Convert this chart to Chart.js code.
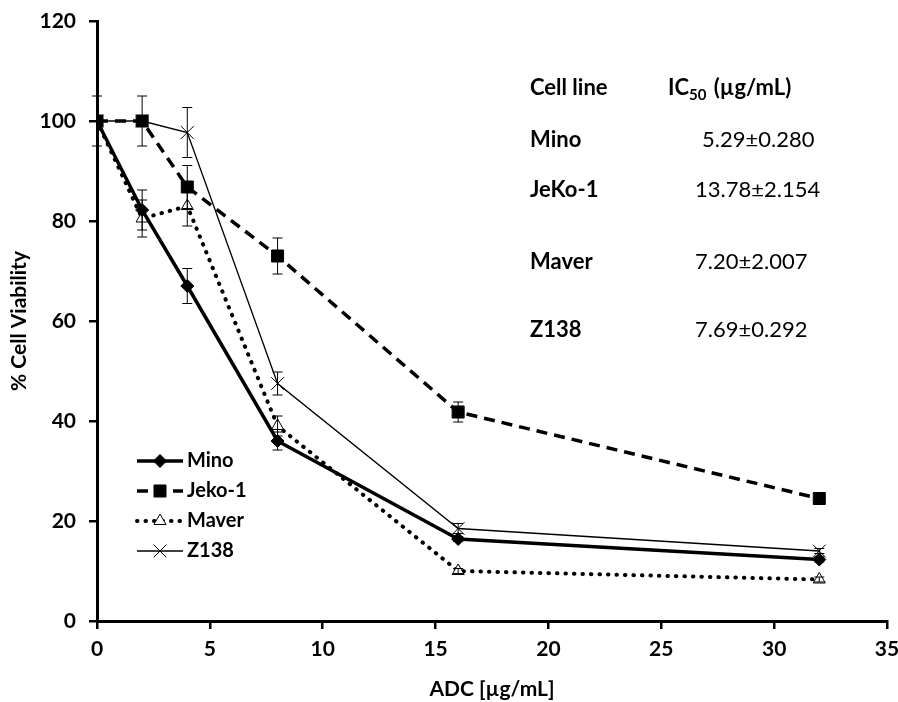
<!DOCTYPE html>
<html>
<head>
<meta charset="utf-8">
<script src="https://cdn.jsdelivr.net/npm/chart.js@4"></script>
<style>
  html, body { margin: 0; padding: 0; background: #fff; }
  #wrap { width: 898px; height: 702px; }
</style>
</head>
<body>
<div id="wrap"><canvas id="viabilityChart" width="898" height="702"></canvas></div>
<script>
// doses and viability values
const doses = [0, 2, 4, 8, 16, 32];
const mino = [100, 82.2, 67, 36, 16.4, 12.3];
const jeko = [100, 100, 86.8, 73, 41.8, 24.5];
const maver = [100, 80.5, 83, 39, 10, 8.3];
const z138 = [100, 100, 97.7, 47.5, 18.5, 14];

// standard deviations (error bars)
const minoErr = [0, 4, 3.5, 1.8, 0.5, 0.5];
const jekoErr = [0, 5, 4.3, 3.6, 2, 0.5];
const maverErr = [5, 3.7, 4, 2, 0.5, 0.5];
const z138Err = [0, 0, 5, 2.3, 1, 0.5];

const seriesNames = ['Mino', 'Jeko-1', 'Maver', 'Z138'];
const xTicks = [0, 5, 10, 15, 20, 25, 30, 35];
const yTicks = [0, 20, 40, 60, 80, 100, 120];

// IC50 table
const cellLines = ['Mino', 'JeKo-1', 'Maver', 'Z138'];
const ic50Values = ['5.29\u00b10.280', '13.78\u00b12.154', '7.20\u00b12.007', '7.69\u00b10.292'];

const allErrors = [minoErr, jekoErr, maverErr, z138Err];

function toPoints(ys) {
    return doses.map((d, i) => ({ x: d, y: ys[i] }));
}

const errorBars = {
    id: 'errorBars',
    afterDatasetsDraw(chart) {
        const c = chart.ctx;
        const xs = chart.scales.x, ys = chart.scales.y;
        c.save();
        c.strokeStyle = '#000';
        c.lineWidth = 1;
        allErrors.forEach((errs, di) => {
            const vals = chart.data.datasets[di].data;
            vals.forEach((p, i) => {
                if (!errs[i]) return;
                const px = xs.getPixelForValue(p.x);
                const top = ys.getPixelForValue(p.y + errs[i]);
                const bot = ys.getPixelForValue(p.y - errs[i]);
                c.beginPath();
                c.moveTo(px, top); c.lineTo(px, bot);
                c.moveTo(px - 5, top); c.lineTo(px + 5, top);
                c.moveTo(px - 5, bot); c.lineTo(px + 5, bot);
                c.stroke();
            });
        });
        c.restore();
    }
};

const sideText = {
    id: 'sideText',
    afterDraw(chart) {
        const c = chart.ctx;
        c.save();
        c.fillStyle = '#000';
        c.textBaseline = 'middle';
        c.textAlign = 'left';
        // table header
        c.font = 'bold 22px Lato';
        c.fillText('Cell line', 530, 88);
        c.fillText('IC', 668, 88);
        let w = c.measureText('IC').width;
        c.font = 'bold 15px Lato';
        c.fillText('50', 668 + w, 95);
        let w2 = c.measureText('50').width;
        c.font = 'bold 22px Lato';
        c.fillText(' (\u00b5g/mL)', 670 + w + w2, 88);
        const rowY = [140, 190, 262, 330];
        cellLines.forEach((name, i) => {
            c.font = 'bold 22px Lato';
            c.fillText(name, 530, rowY[i]);
            c.font = '22px Lato';
            c.fillText(ic50Values[i], i === 0 ? 702 : 695, rowY[i]);
        });

        // legend
        const ds = chart.data.datasets;
        const legY = [461, 491, 521, 551];
        ds.forEach((d, i) => {
            const y = legY[i];
            c.save();
            c.strokeStyle = '#000';
            c.lineWidth = d.borderWidth;
            c.setLineDash(d.borderDash || []);
            c.lineCap = d.borderCapStyle || 'butt';
            c.beginPath();
            c.moveTo(137, y); c.lineTo(183, y);
            c.stroke();
            c.restore();
            c.save();
            c.setLineDash([]);
            c.fillStyle = d.pointBackgroundColor;
            c.strokeStyle = '#000';
            c.lineWidth = d.pointBorderWidth;
            Chart.helpers.drawPoint(c, { pointStyle: d.pointStyle, radius: d.pointRadius, borderWidth: d.pointBorderWidth, rotation: 0 }, 160, y);
            c.restore();
            c.font = 'bold 20px Lato';
            c.fillText(seriesNames[i], 187, y);
        });
        c.restore();
    }
};

const ctx = document.getElementById('viabilityChart').getContext('2d');
new Chart(ctx, {
    type: 'line',
    data: {
        datasets: [
            {
                label: seriesNames[0], data: toPoints(mino),
                borderColor: '#000', borderWidth: 3.5,
                pointStyle: 'rectRot', pointRadius: 6.5, pointBackgroundColor: '#000',
                pointBorderColor: '#000', pointBorderWidth: 1
            },
            {
                label: seriesNames[1], data: toPoints(jeko),
                borderColor: '#000', borderWidth: 3.5, borderDash: [11, 7],
                pointStyle: 'rect', pointRadius: 8.5, pointBackgroundColor: '#000',
                pointBorderColor: '#000', pointBorderWidth: 1
            },
            {
                label: seriesNames[2], data: toPoints(maver),
                borderColor: '#000', borderWidth: 4, borderDash: [0.5, 8], borderCapStyle: 'round',
                pointStyle: 'triangle', pointRadius: 7, pointBackgroundColor: '#fff',
                pointBorderColor: '#000', pointBorderWidth: 1
            },
            {
                label: seriesNames[3], data: toPoints(z138),
                borderColor: '#000', borderWidth: 1.3,
                pointStyle: 'crossRot', pointRadius: 9, pointBackgroundColor: '#000',
                pointBorderColor: '#000', pointBorderWidth: 1
            }
        ]
    },
    options: {
        responsive: false,
        animation: false,
        layout: { padding: { top: 21, right: 11, left: 0, bottom: 0 } },
        plugins: { legend: { display: false }, tooltip: { enabled: false } },
        elements: { line: { tension: 0 } },
        scales: {
            x: {
                type: 'linear', min: 0, max: 35,
                afterBuildTicks(axis) { axis.ticks = xTicks.map(v => ({ value: v })); },
                afterFit(axis) { axis.height = 81; axis.paddingRight = 0; axis.paddingLeft = 0; },
                border: { color: '#000', width: 3 },
                grid: { drawOnChartArea: false, color: '#000', tickLength: 8, lineWidth: 2.5 },
                ticks: { color: '#000', padding: 8, font: { family: 'Lato', size: 21, weight: 'bold' } },
                title: { display: true, text: 'ADC [\u00b5g/mL]', color: '#000', padding: { top: 2, bottom: 0 },
                         font: { family: 'Lato', size: 21, weight: 'bold' } }
            },
            y: {
                type: 'linear', min: 0, max: 120,
                afterBuildTicks(axis) { axis.ticks = yTicks.map(v => ({ value: v })); },
                afterFit(axis) { axis.width = 97; axis.paddingTop = 0; axis.paddingBottom = 0; },
                border: { color: '#000', width: 3 },
                grid: { drawOnChartArea: false, color: '#000', tickLength: 8, lineWidth: 2.5 },
                ticks: { color: '#000', padding: 13, font: { family: 'Lato', size: 21, weight: 'bold' } },
                title: { display: true, text: '% Cell Viability', color: '#000', padding: { top: 7, bottom: 0 },
                         font: { family: 'Lato', size: 21, weight: 'bold' } }
            }
        }
    },
    plugins: [errorBars, sideText]
});
</script>
</body>
</html>
